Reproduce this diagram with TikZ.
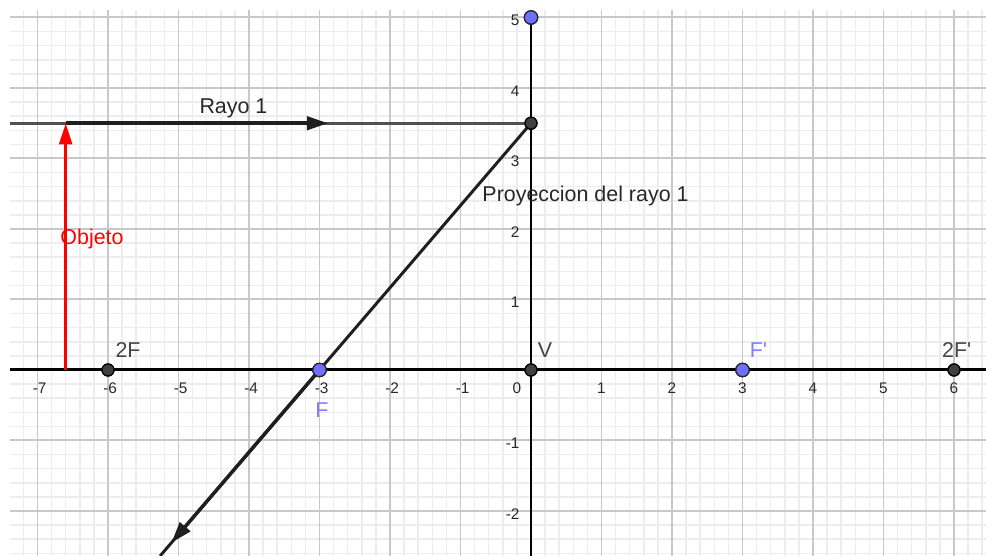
\documentclass[tikz,border=0pt]{standalone}
\usepackage{fontspec}
\setmainfont{Liberation Sans}
\newfontfamily\lblfont{Liberation Sans}
\usetikzlibrary{arrows.meta}
\definecolor{gmajor}{RGB}{200,200,200}
\definecolor{gminor}{RGB}{237,237,237}
\definecolor{ptblue}{RGB}{112,112,255}
\definecolor{lblblue}{RGB}{128,128,255}
\definecolor{ptdark}{RGB}{64,64,64}
\definecolor{raygray}{RGB}{80,80,80}
\definecolor{txtdark}{RGB}{40,40,40}
\definecolor{lbldark}{RGB}{70,70,70}
\tikzset{
  bigtxt/.style={font=\lblfont\fontsize{8.65}{10}\selectfont, inner sep=0pt},
  ticktxt/.style={font=\lblfont\fontsize{6.2}{7}\selectfont, text=txtdark, inner sep=0pt},
  bluept/.style={circle, fill=ptblue, draw=black!85, line width=0.5pt, minimum size=0.19cm, inner sep=0pt},
  darkpt/.style={circle, fill=ptdark, draw=black, line width=0.5pt, minimum size=0.17cm, inner sep=0pt},
  axisline/.style={line width=1.2pt, black},
  rayline/.style={line width=1.2pt, black!88},
  lightray/.style={line width=1.1pt, raygray},
  vecline/.style={line width=1.4pt, black!88, -{Triangle[length=0.3cm,width=0.19cm]}},
  objline/.style={line width=1.3pt, red, -{Triangle[length=0.3cm,width=0.18cm]}}
}
\begin{document}
\begin{tikzpicture}
\useasboundingbox (-7.532,-2.638) rectangle (6.454,5.248);
\fill[white] (-7.532,-2.638) rectangle (6.454,5.248);
% grid
\begin{scope}
\clip (-7.39,-2.638) rectangle (6.454,5.106);
\draw[gminor, line width=0.6pt] (-7.6,-2.8) grid[step=0.2] (6.6,5.2);
\draw[gmajor, line width=0.8pt] (-8,-3) grid[step=1] (7,6);
\end{scope}
% coordinates
\coordinate (xl) at (-7.39,0);
\coordinate (xr) at (6.454,0);
\coordinate (yb) at (0,-2.638);
\coordinate (rl) at (-7.39,3.5);
\coordinate (ob) at (-6.6,0);
\coordinate (ot) at (-6.6,3.5);
\coordinate (vt) at (-2.88,3.5);
\coordinate (db) at (-5.261,-2.638);
\coordinate (dt) at (-5.1,-2.45);
% points (nodes)
\node[bluept] (A) at (0,5) {};
\node[darkpt] (P) at (0,3.5) {};
\node[bluept] (F) at (-3,0) {};
\node[bluept] (Fp) at (3,0) {};
\node[darkpt] (TF) at (-6,0) {};
\node[darkpt] (TFp) at (6,0) {};
\node[darkpt] (V) at (0,0) {};
% axes and lens
\draw[axisline] (xl) -- (xr);
\draw[axisline] (A.center) -- (yb);
% ray 1
\draw[lightray] (rl) -- (P.center);
\draw[vecline] (ot) -- (vt);
% projection
\draw[rayline] (P.center) -- (db);
\draw[vecline] (F.center) -- (dt);
% object
\draw[objline] (ob) -- (ot);
% redraw points on top
\node[bluept] at (A) {};
\node[darkpt] at (P) {};
\node[bluept] at (F) {};
\node[bluept] at (Fp) {};
\node[darkpt] at (TF) {};
\node[darkpt] at (TFp) {};
\node[darkpt] at (V) {};
% labels
\node[bigtxt, text=txtdark, anchor=base west] (lr) at (-4.709,3.631) {Rayo 1};
\node[bigtxt, text=red, anchor=base west] (lo) at (-6.681,1.773) {Objeto};
\node[bigtxt, text=txtdark, anchor=base west] (lp) at (-0.695,2.383) {Proyeccion del rayo 1};
\node[bigtxt, text=lbldark, anchor=base west] (l2F) at (-5.90,0.17) {2F};
\node[bigtxt, text=lblblue, anchor=base west] (lF) at (-3.064,-0.667) {F};
\node[bigtxt, text=lbldark, anchor=base west] (lV) at (0.09,0.17) {V};
\node[bigtxt, text=lblblue, anchor=base west] (lFp) at (3.097,0.17) {F'};
\node[bigtxt, text=lbldark, anchor=base west] (l2Fp) at (5.825,0.17) {2F'};
% tick labels x
\foreach \k in {-7,-6,-5,-4,-3,-2,-1} {
  \node[ticktxt, anchor=base] (tx\k) at (\k+0.03,-0.33) {\k};
}
\foreach \k in {1,2,3,4,5,6} {
  \node[ticktxt, anchor=base] (tx\k) at (\k,-0.33) {\k};
}
\node[ticktxt, anchor=base] (tx0) at (-0.2,-0.33) {0};
% tick labels y
\foreach \k in {1,2,3,4,5,-1,-2} {
  \node[ticktxt, anchor=base east] (ty\k) at (-0.156,\k-0.12) {\k};
}
\end{tikzpicture}
\end{document}
